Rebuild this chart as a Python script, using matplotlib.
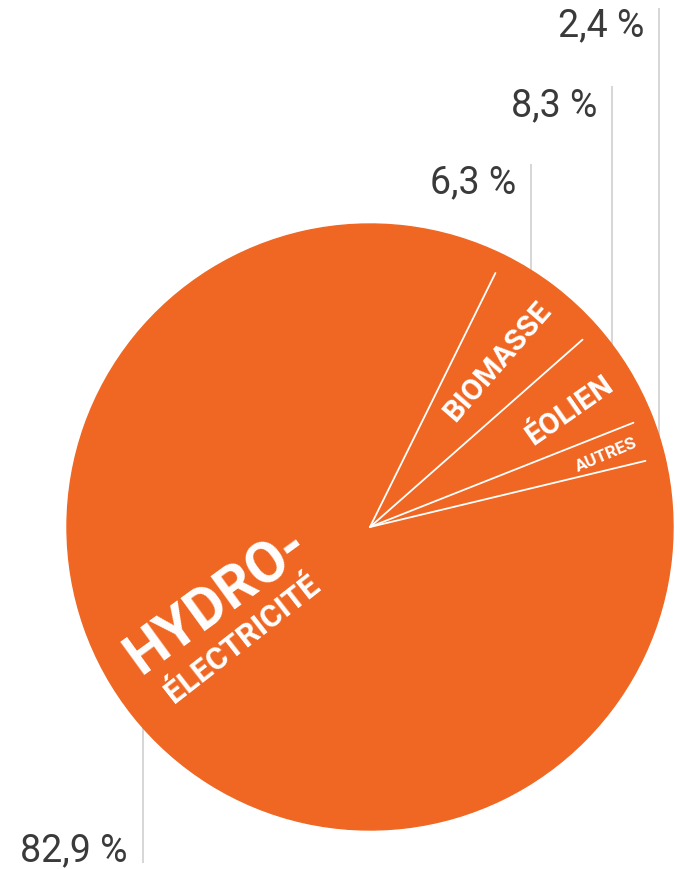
import matplotlib
matplotlib.use("Agg")
import matplotlib.pyplot as plt
import numpy as np

# ---- data ----
categories = ["AUTRES", "ÉOLIEN", "BIOMASSE", "HYDRO-\nÉLECTRICITÉ"]
percent_labels = ["2,4 %", "8,3 %", "6,3 %", "82,9 %"]
# slice shares as drawn in the reference (angles)
drawn_shares = [2.25, 5.5, 6.2, 86.05]

# ---- layout (image pixel coords, y downward) ----
W, H = 680, 869
CX, CY, R = 370, 527, 303
ORANGE = "#EF6722"
GREY_TXT = "#3a3a3a"
GREY_LINE = "#cfcfcf"

fig = plt.figure(figsize=(W / 100, H / 100), dpi=100)
ax = fig.add_axes([0, 0, 1, 1])
ax.set_xlim(0, W)
ax.set_ylim(0, H)
ax.set_aspect("equal")
ax.axis("off")

def Y(y):
    return H - y

# leader lines (behind pie) and percentage labels
leaders = [  # x, y_top, y_bottom (image coords), label baseline y
    (659, 8, 500, 36.7),
    (612, 86, 500, 116.7),
    (531, 164, 500, 193),
    (143, 600, 863, 861),
]
for (lx, yt, yb, by), txt in zip(leaders, percent_labels):
    ax.plot([lx, lx], [Y(yt), Y(yb)], color=GREY_LINE, lw=1.2, zorder=1,
            solid_capstyle="butt")
    ax.text(lx - 15, Y(by), txt, ha="right", va="baseline",
            fontsize=27, family="Roboto", color=GREY_TXT, zorder=3)

start = 13.5
wedges, _ = ax.pie(drawn_shares, startangle=start, counterclock=True,
                   colors=[ORANGE] * len(drawn_shares), center=(CX, Y(CY)),
                   radius=R, frame=True,
                   wedgeprops=dict(linewidth=1.0, edgecolor=ORANGE, zorder=2))
ax.set_xlim(0, W)
ax.set_ylim(0, H)
ax.axis("off")

# white separator lines
for w in wedges:
    th = np.deg2rad(w.theta1)
    ax.plot([CX, CX + 0.935 * R * np.cos(th)],
            [Y(CY), Y(CY) + 0.935 * R * np.sin(th)],
            color="white", lw=1.3, zorder=4, solid_capstyle="round")

# slice labels
txt_kw = dict(color="white", family="Roboto", fontweight="bold",
              ha="center", va="center", zorder=5)
ax.text(606, Y(455), categories[0], fontsize=12.5, rotation=23, **txt_kw)
ax.text(569, Y(411), categories[1], fontsize=21.5, rotation=35, **txt_kw)
ax.text(498, Y(362), categories[2], fontsize=21.5, rotation=49, **txt_kw)
hyd1, hyd2 = categories[3].split("\n")
ax.text(217, Y(601), hyd1, fontsize=41, rotation=36, **txt_kw)
ax.text(242, Y(639), hyd2, fontsize=22.5, rotation=38, **txt_kw)

fig.savefig("out.png", dpi=100, facecolor="white")
